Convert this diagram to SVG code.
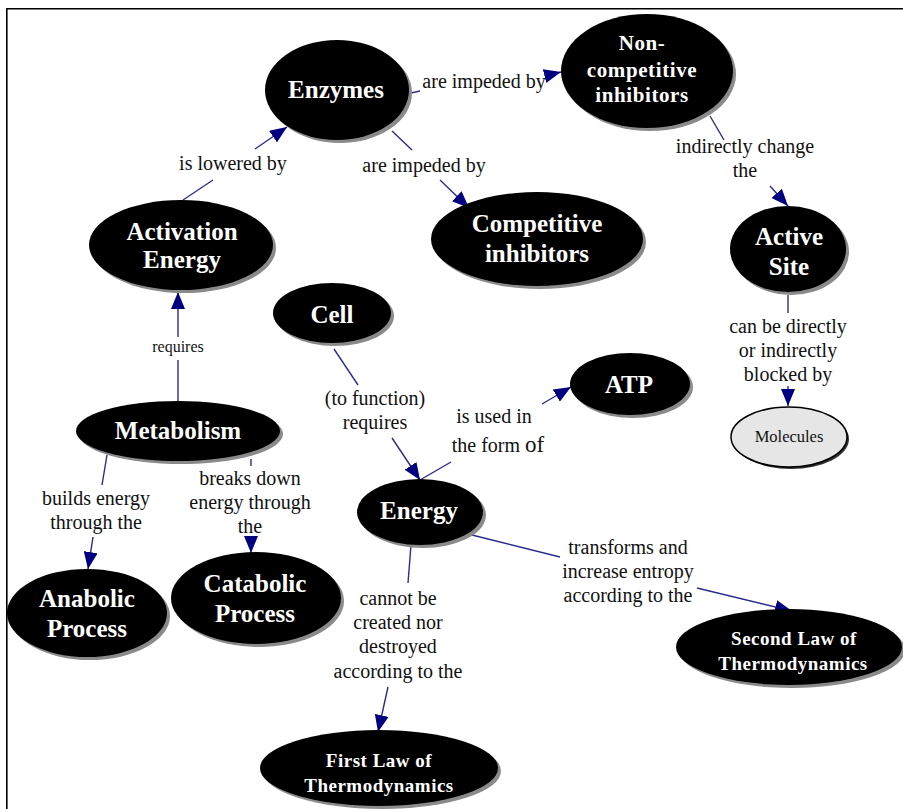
<svg xmlns="http://www.w3.org/2000/svg" width="903" height="809" viewBox="0 0 903 809">
  <style>
    .node { fill: #000; }
    .shadow { fill: #8a8a8a; }
    .light { fill: #e6e6e6; stroke: #000; stroke-width: 1.5; }
    .nt { font-family: "Liberation Serif", "Times New Roman", serif; font-weight: bold; fill: #fff; text-anchor: middle; font-size: 25px; }
    .nt.mid { font-size: 21px; letter-spacing: 0.6px; }
    .nt.law { font-size: 19px; letter-spacing: 0.5px; }
    .lt { font-family: "Liberation Serif", "Times New Roman", serif; fill: #111; text-anchor: middle; font-size: 20px; }
    .lt.small { font-size: 16px; }
    .edge { stroke: #2b2b8c; stroke-width: 1.4; fill: none; }
    .head { marker-end: url(#arrow); }
    .frame { stroke: #000; stroke-width: 1.6; fill: none; }
  </style>
  <defs>
    <marker id="arrow" markerUnits="userSpaceOnUse" markerWidth="18" markerHeight="14" refX="17" refY="7" orient="auto">
      <path d="M0,0 L17,7 L0,14 z" fill="#000080"/>
    </marker>
  </defs>

  <rect width="903" height="809" fill="#fff"/>
  <path class="frame" d="M6.8,809 V8.7 H903"/>

  <!-- connectors: each link is split around its label -->
  <g id="connectors">
    <line class="edge" x1="411" y1="93" x2="420" y2="91"/>
    <line class="edge head" x1="545" y1="76" x2="561" y2="72"/>

    <line class="edge" x1="392" y1="131" x2="412" y2="150"/>
    <line class="edge head" x1="440" y1="180" x2="469" y2="208"/>

    <line class="edge" x1="183" y1="200" x2="213" y2="180"/>
    <line class="edge head" x1="255" y1="149" x2="287" y2="127"/>

    <line class="edge" x1="710" y1="116" x2="724" y2="140"/>
    <line class="edge head" x1="770" y1="186" x2="788" y2="206"/>

    <line class="edge" x1="788" y1="295" x2="788" y2="313"/>
    <line class="edge head" x1="788" y1="386" x2="788" y2="406"/>

    <line class="edge" x1="178" y1="401" x2="178" y2="360"/>
    <line class="edge head" x1="178" y1="337" x2="178" y2="292"/>

    <line class="edge" x1="107" y1="455" x2="102" y2="485"/>
    <line class="edge head" x1="93" y1="537" x2="88" y2="569"/>

    <line class="edge" x1="251" y1="459" x2="251" y2="466"/>
    <line class="edge head" x1="251" y1="538" x2="251" y2="553"/>

    <line class="edge" x1="334" y1="349" x2="358" y2="385"/>
    <line class="edge head" x1="392" y1="438" x2="420" y2="480"/>

    <line class="edge" x1="420" y1="480" x2="451" y2="462"/>
    <line class="edge head" x1="542" y1="404" x2="571" y2="387"/>

    <line class="edge" x1="472" y1="535" x2="560" y2="557"/>
    <line class="edge head" x1="697" y1="588" x2="792" y2="611"/>

    <line class="edge" x1="411" y1="545" x2="408" y2="583"/>
    <line class="edge head" x1="388" y1="687" x2="378" y2="732"/>
  </g>

  <!-- link labels -->
  <g id="labels">
    <text class="lt" x="484" y="88">are impeded by</text>
    <text class="lt" x="424" y="172">are impeded by</text>
    <text class="lt" x="233" y="170">is lowered by</text>
    <text class="lt" x="745" y="153">indirectly change</text>
    <text class="lt" x="745" y="177">the</text>
    <text class="lt" x="788" y="333">can be directly</text>
    <text class="lt" x="788" y="357">or indirectly</text>
    <text class="lt" x="788" y="381">blocked by</text>
    <text class="lt small" x="178" y="352">requires</text>
    <text class="lt" x="96" y="505">builds energy</text>
    <text class="lt" x="96" y="529">through the</text>
    <text class="lt" x="250" y="485">breaks down</text>
    <text class="lt" x="250" y="509">energy through</text>
    <text class="lt" x="250" y="533">the</text>
    <text class="lt" x="375" y="405">(to function)</text>
    <text class="lt" x="375" y="429">requires</text>
    <text class="lt" x="494" y="423">is used in</text>
    <text class="lt" x="498" y="452">the form <tspan font-size="23">of</tspan></text>
    <text class="lt" x="628" y="554">transforms and</text>
    <text class="lt" x="628" y="578">increase entropy</text>
    <text class="lt" x="628" y="602">according to the</text>
    <text class="lt" x="398" y="605">cannot be</text>
    <text class="lt" x="398" y="629">created nor</text>
    <text class="lt" x="398" y="653">destroyed</text>
    <text class="lt" x="398" y="678">according to the</text>
  </g>

  <g id="enzymes">
    <ellipse class="shadow" cx="340" cy="93" rx="72" ry="50"/>
    <ellipse class="node" cx="337" cy="90" rx="72" ry="50"/>
    <text class="nt" x="336" y="98">Enzymes</text>
  </g>
  <g id="noncompetitive">
    <ellipse class="shadow" cx="650" cy="74" rx="86" ry="57"/>
    <ellipse class="node" cx="647" cy="71" rx="86" ry="57"/>
    <text class="nt mid" x="642" y="50">Non-</text>
    <text class="nt mid" x="642" y="77">competitive</text>
    <text class="nt mid" x="642" y="102">inhibitors</text>
  </g>
  <g id="competitive">
    <ellipse class="shadow" cx="540" cy="242" rx="106" ry="47"/>
    <ellipse class="node" cx="537" cy="239" rx="106" ry="47"/>
    <text class="nt" x="537" y="232">Competitive</text>
    <text class="nt" x="537" y="262">inhibitors</text>
  </g>
  <g id="active-site">
    <ellipse class="shadow" cx="791" cy="252" rx="58" ry="43"/>
    <ellipse class="node" cx="788" cy="249" rx="58" ry="43"/>
    <text class="nt" x="789" y="245">Active</text>
    <text class="nt" x="789" y="275">Site</text>
  </g>
  <g id="molecules">
    <ellipse cx="791" cy="439" rx="58" ry="30" fill="#333"/>
    <ellipse class="light" cx="789" cy="437" rx="58" ry="30"/>
    <text class="lt small" x="789" y="442" style="font-size:16.5px">Molecules</text>
  </g>
  <g id="activation-energy">
    <ellipse class="shadow" cx="184" cy="248" rx="92" ry="45"/>
    <ellipse class="node" cx="181" cy="245" rx="92" ry="45"/>
    <text class="nt" x="182" y="240">Activation</text>
    <text class="nt" x="182" y="268">Energy</text>
  </g>
  <g id="cell">
    <ellipse class="shadow" cx="335" cy="316" rx="59" ry="30"/>
    <ellipse class="node" cx="332" cy="313" rx="59" ry="30"/>
    <text class="nt" x="332" y="323">Cell</text>
  </g>
  <g id="metabolism">
    <ellipse class="shadow" cx="181" cy="434" rx="102" ry="30"/>
    <ellipse class="node" cx="178" cy="431" rx="102" ry="30"/>
    <text class="nt" x="178" y="439">Metabolism</text>
  </g>
  <g id="atp">
    <ellipse class="shadow" cx="633" cy="387" rx="60" ry="31"/>
    <ellipse class="node" cx="630" cy="384" rx="60" ry="31"/>
    <text class="nt" x="629" y="393">ATP</text>
  </g>
  <g id="energy">
    <ellipse class="shadow" cx="423" cy="515" rx="63" ry="33"/>
    <ellipse class="node" cx="420" cy="512" rx="63" ry="33"/>
    <text class="nt" x="419" y="519">Energy</text>
  </g>
  <g id="anabolic">
    <ellipse class="shadow" cx="90" cy="616" rx="80" ry="44"/>
    <ellipse class="node" cx="87" cy="613" rx="80" ry="44"/>
    <text class="nt" x="87" y="607">Anabolic</text>
    <text class="nt" x="87" y="637">Process</text>
  </g>
  <g id="catabolic">
    <ellipse class="shadow" cx="259" cy="601" rx="85" ry="46"/>
    <ellipse class="node" cx="256" cy="598" rx="85" ry="46"/>
    <text class="nt" x="255" y="592">Catabolic</text>
    <text class="nt" x="255" y="622">Process</text>
  </g>
  <g id="first-law">
    <ellipse class="shadow" cx="382" cy="771" rx="119" ry="38"/>
    <ellipse class="node" cx="379" cy="768" rx="119" ry="38"/>
    <text class="nt law" x="379" y="767">First Law of</text>
    <text class="nt law" x="379" y="792">Thermodynamics</text>
  </g>
  <g id="second-law">
    <ellipse class="shadow" cx="792" cy="650" rx="113" ry="38"/>
    <ellipse class="node" cx="789" cy="647" rx="113" ry="38"/>
    <text class="nt law" x="794" y="645">Second Law of</text>
    <text class="nt law" x="793" y="670">Thermodynamics</text>
  </g>
</svg>
